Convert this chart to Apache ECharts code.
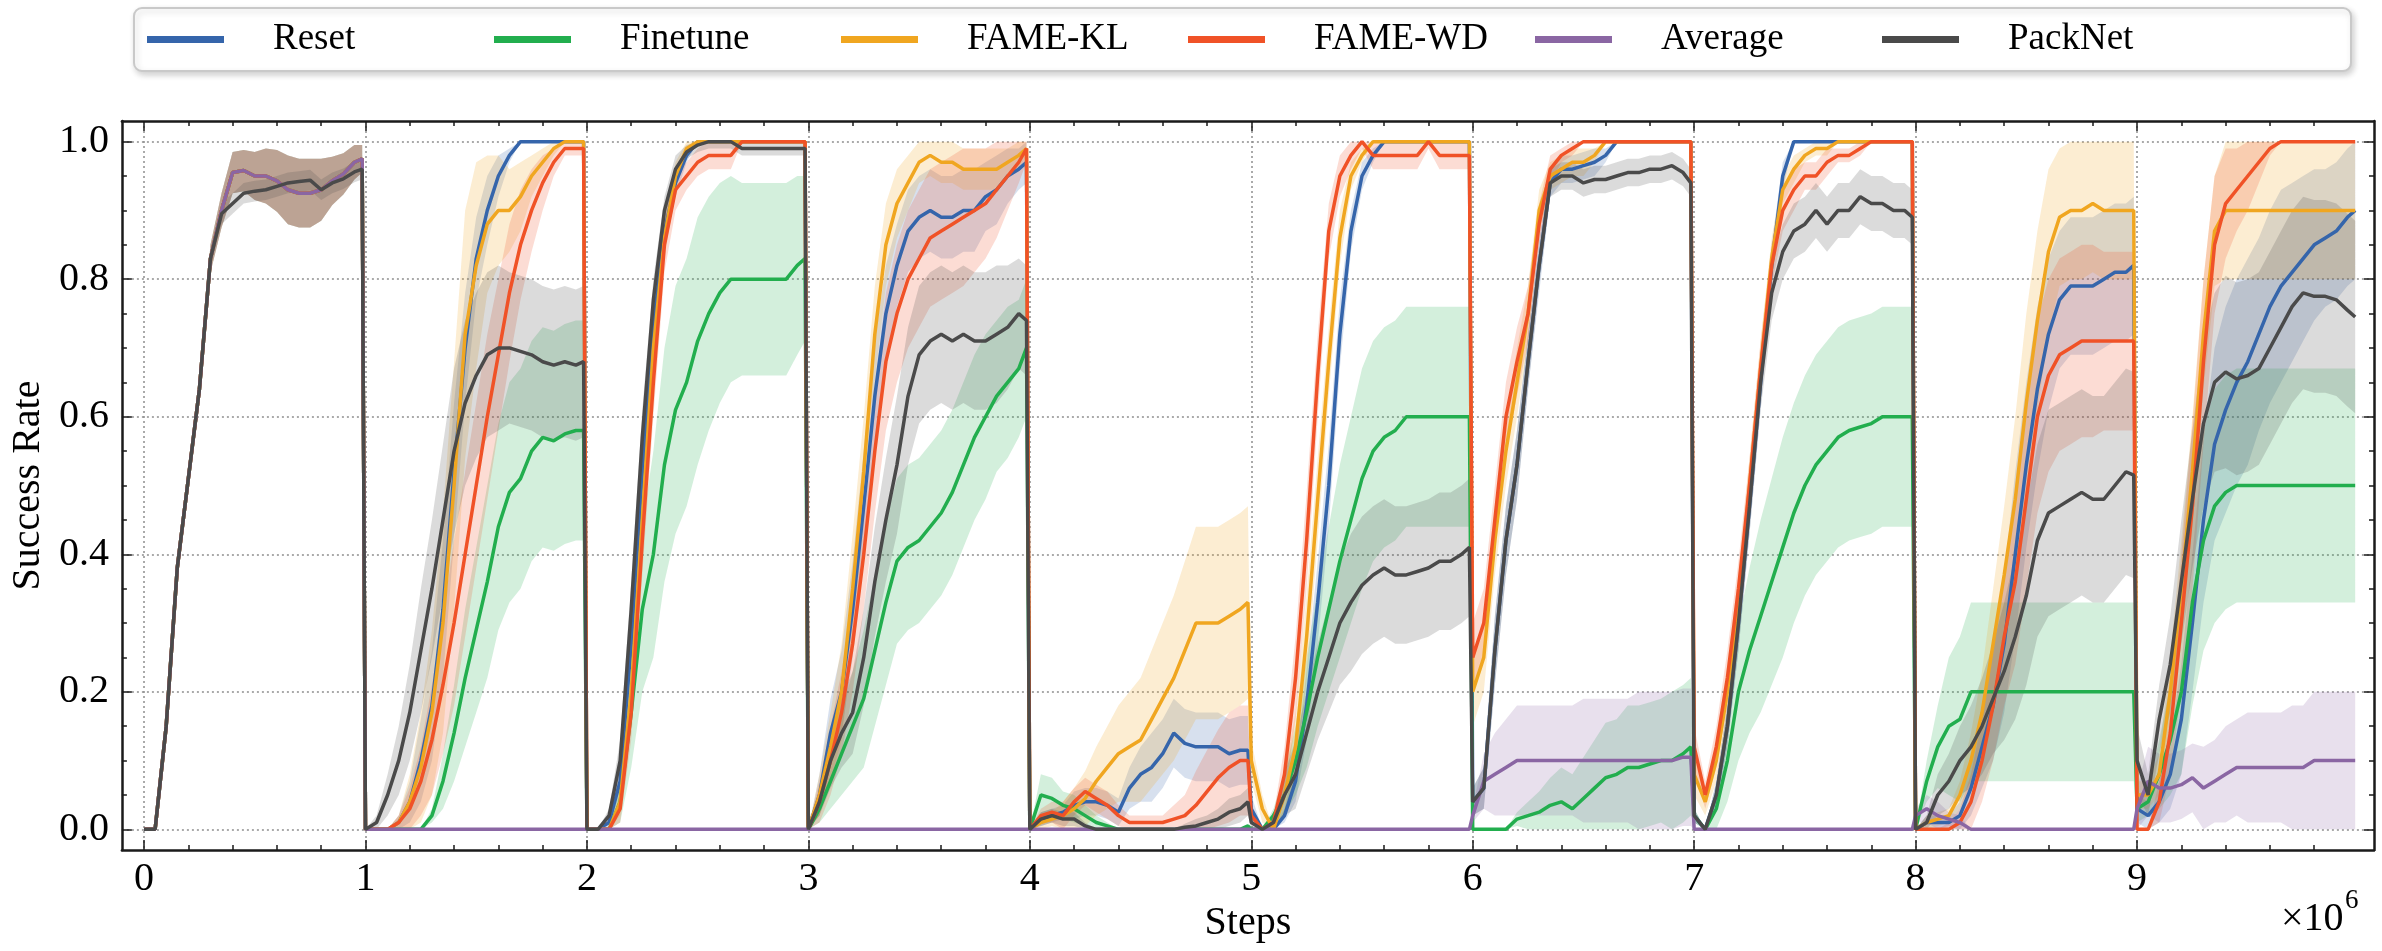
<!DOCTYPE html>
<html>
<head>
<meta charset="utf-8">
<script src="https://cdn.jsdelivr.net/npm/echarts@6/dist/echarts.min.js"></script>
<style>
  html, body { margin: 0; padding: 0; background: #fff; }
  #chart { width: 2382px; height: 951px; }
</style>
</head>
<body>
<div id="chart"></div>
<script>
'use strict'

// sampling offsets inside each task (x in units of 1e6 steps)
var offsets = [0, 0.05, 0.1, 0.15, 0.2, 0.25, 0.3, 0.35, 0.4, 0.45, 0.5, 0.55, 0.6, 0.65, 0.7, 0.75, 0.8, 0.85, 0.9, 0.95, 0.985];
var taskCount = 10;

var names = ['Reset', 'Finetune', 'FAME-KL', 'FAME-WD', 'Average', 'PackNet'];
var colors = ['#3565ab', '#22ae4e', '#f0a620', '#f05227', '#8a66a3', '#4a4a4a'];

// tick labels
var majorX = [0, 1, 2, 3, 4, 5, 6, 7, 8, 9];
var majorY = [0, 0.2, 0.4, 0.6, 0.8, 1.0];

var flat0 = [0,0,0,0,0,0,0,0,0,0,0,0,0,0,0,0,0,0,0,0,0];

// task 0 is the same run for the first five methods
var task0 = [0,0,0.15,0.38,0.51,0.64,0.83,0.9,0.955,0.958,0.95,0.95,0.943,0.93,0.925,0.925,0.93,0.943,0.953,0.97,0.975];
var task0Std = [0,0,0.01,0.015,0.015,0.015,0.02,0.025,0.03,0.03,0.035,0.04,0.045,0.05,0.05,0.05,0.045,0.035,0.03,0.025,0.02];

var reset = [
  task0,
  [0,0,0,0.01,0.04,0.1,0.18,0.32,0.52,0.7,0.83,0.9,0.95,0.98,1,1,1,1,1,1,1],
  [0,0,0.01,0.07,0.27,0.52,0.73,0.87,0.94,0.98,1,1,1,1,1,1,1,1,1,1,1],
  [0,0.05,0.14,0.2,0.32,0.47,0.63,0.75,0.82,0.87,0.89,0.9,0.89,0.89,0.9,0.9,0.92,0.93,0.95,0.96,0.97],
  [0,0.015,0.02,0.025,0.035,0.04,0.04,0.035,0.025,0.06,0.08,0.09,0.11,0.14,0.125,0.12,0.12,0.12,0.11,0.115,0.115],
  [0.03,0,0,0.02,0.07,0.18,0.33,0.5,0.72,0.87,0.95,0.98,1,1,1,1,1,1,1,1,1],
  [0.04,0.06,0.26,0.42,0.53,0.68,0.82,0.94,0.96,0.96,0.965,0.97,0.98,1,1,1,1,1,1,1,1],
  [0.02,0,0.05,0.15,0.3,0.47,0.65,0.82,0.95,1,1,1,1,1,1,1,1,1,1,1,1],
  [0,0.01,0.01,0.01,0.02,0.06,0.12,0.18,0.27,0.4,0.53,0.64,0.72,0.77,0.79,0.79,0.79,0.8,0.81,0.81,0.82],
  [0.03,0.02,0.04,0.08,0.16,0.3,0.45,0.56,0.61,0.65,0.68,0.72,0.76,0.79,0.81,0.83,0.85,0.86,0.87,0.89,0.9]
];
var resetStd = [
  task0Std,
  [0,0,0,0.01,0.03,0.06,0.08,0.1,0.1,0.08,0.06,0.05,0.03,0.01,0,0,0,0,0,0,0],
  [0,0,0.01,0.03,0.05,0.05,0.04,0.03,0.02,0.01,0,0,0,0,0,0,0,0,0,0,0],
  [0,0.03,0.05,0.06,0.07,0.08,0.08,0.07,0.06,0.06,0.06,0.06,0.06,0.06,0.06,0.06,0.05,0.05,0.04,0.03,0.03],
  [0,0.01,0.01,0.01,0.02,0.02,0.02,0.02,0.02,0.03,0.04,0.05,0.05,0.05,0.05,0.05,0.05,0.05,0.05,0.05,0.05],
  [0.02,0,0,0.01,0.03,0.05,0.06,0.06,0.05,0.03,0.02,0.01,0,0,0,0,0,0,0,0,0],
  [0.02,0.03,0.05,0.05,0.05,0.04,0.04,0.02,0.02,0.02,0.02,0.02,0.01,0,0,0,0,0,0,0,0],
  [0.01,0,0.02,0.03,0.04,0.04,0.04,0.03,0.02,0,0,0,0,0,0,0,0,0,0,0,0],
  [0,0.01,0.01,0.01,0.02,0.04,0.06,0.08,0.1,0.12,0.12,0.12,0.11,0.1,0.1,0.1,0.1,0.1,0.1,0.1,0.1],
  [0.02,0.02,0.03,0.05,0.08,0.1,0.12,0.14,0.15,0.15,0.15,0.14,0.14,0.14,0.13,0.12,0.11,0.1,0.1,0.1,0.1]
];

var finetune = [
  task0,
  [0,0,0,0,0,0,0.02,0.07,0.14,0.22,0.29,0.36,0.44,0.49,0.51,0.55,0.57,0.565,0.575,0.58,0.58],
  [0,0,0,0.04,0.17,0.32,0.4,0.53,0.61,0.65,0.71,0.75,0.78,0.8,0.8,0.8,0.8,0.8,0.8,0.82,0.83],
  [0,0.03,0.07,0.11,0.15,0.19,0.26,0.33,0.39,0.41,0.42,0.44,0.46,0.49,0.53,0.57,0.6,0.63,0.65,0.67,0.7],
  [0,0.05,0.045,0.035,0.03,0.02,0.01,0.005,0,0,0,0,0,0,0,0,0,0,0,0,0.005],
  [0,0,0.02,0.05,0.1,0.17,0.25,0.32,0.39,0.45,0.51,0.55,0.57,0.58,0.6,0.6,0.6,0.6,0.6,0.6,0.6],
  [0,0,0,0,0.015,0.02,0.025,0.035,0.04,0.03,0.045,0.06,0.075,0.08,0.09,0.09,0.095,0.1,0.1,0.11,0.12],
  [0.02,0,0.03,0.1,0.2,0.26,0.31,0.36,0.41,0.46,0.5,0.53,0.55,0.57,0.58,0.585,0.59,0.6,0.6,0.6,0.6],
  [0,0.07,0.12,0.15,0.16,0.2,0.2,0.2,0.2,0.2,0.2,0.2,0.2,0.2,0.2,0.2,0.2,0.2,0.2,0.2,0.2],
  [0.03,0.04,0.08,0.13,0.2,0.33,0.42,0.47,0.49,0.5,0.5,0.5,0.5,0.5,0.5,0.5,0.5,0.5,0.5,0.5,0.5]
];
var finetuneStd = [
  task0Std,
  [0,0,0,0,0,0,0.01,0.04,0.07,0.1,0.12,0.14,0.15,0.16,0.16,0.16,0.16,0.16,0.16,0.16,0.16],
  [0,0,0,0.03,0.08,0.12,0.15,0.17,0.18,0.18,0.18,0.17,0.16,0.15,0.14,0.14,0.14,0.14,0.14,0.13,0.12],
  [0,0.02,0.04,0.06,0.08,0.1,0.11,0.12,0.12,0.12,0.12,0.12,0.12,0.12,0.12,0.12,0.12,0.11,0.11,0.1,0.1],
  [0,0.03,0.03,0.02,0.02,0.015,0.01,0.005,0,0,0,0,0,0,0,0,0,0,0,0,0],
  [0,0,0.01,0.03,0.05,0.08,0.1,0.12,0.14,0.15,0.16,0.16,0.16,0.16,0.16,0.16,0.16,0.16,0.16,0.16,0.16],
  [0,0,0,0,0.01,0.02,0.03,0.04,0.05,0.05,0.06,0.07,0.08,0.08,0.09,0.09,0.09,0.09,0.1,0.1,0.1],
  [0.01,0,0.03,0.06,0.1,0.12,0.14,0.15,0.16,0.16,0.16,0.16,0.16,0.16,0.16,0.16,0.16,0.16,0.16,0.16,0.16],
  [0,0.03,0.06,0.1,0.12,0.13,0.13,0.13,0.13,0.13,0.13,0.13,0.13,0.13,0.13,0.13,0.13,0.13,0.13,0.13,0.13],
  [0.02,0.02,0.05,0.08,0.12,0.15,0.16,0.17,0.17,0.17,0.17,0.17,0.17,0.17,0.17,0.17,0.17,0.17,0.17,0.17,0.17]
];

var fameKL = [
  task0,
  [0,0,0,0.01,0.04,0.09,0.17,0.3,0.5,0.72,0.82,0.88,0.9,0.9,0.92,0.95,0.97,0.99,1,1,1],
  [0,0,0,0.04,0.2,0.45,0.7,0.86,0.95,0.99,1,1,1,1,1,1,1,1,1,1,1],
  [0,0.05,0.12,0.2,0.35,0.52,0.72,0.85,0.91,0.94,0.97,0.98,0.97,0.97,0.96,0.96,0.96,0.96,0.97,0.98,0.99],
  [0,0.01,0.015,0.02,0.03,0.045,0.07,0.09,0.11,0.12,0.13,0.16,0.19,0.22,0.26,0.3,0.3,0.3,0.31,0.32,0.33],
  [0.1,0.03,0,0.05,0.12,0.28,0.48,0.68,0.86,0.95,0.98,1,1,1,1,1,1,1,1,1,1],
  [0.2,0.25,0.42,0.55,0.65,0.75,0.9,0.95,0.96,0.97,0.97,0.98,1,1,1,1,1,1,1,1,1],
  [0.08,0.04,0.1,0.2,0.33,0.5,0.67,0.83,0.93,0.96,0.98,0.99,0.99,1,1,1,1,1,1,1,1],
  [0,0.01,0.015,0.02,0.05,0.1,0.17,0.27,0.37,0.48,0.62,0.74,0.84,0.89,0.9,0.9,0.91,0.9,0.9,0.9,0.9],
  [0.05,0.05,0.08,0.2,0.35,0.52,0.72,0.87,0.9,0.9,0.9,0.9,0.9,0.9,0.9,0.9,0.9,0.9,0.9,0.9,0.9]
];
var fameKLStd = [
  task0Std,
  [0,0,0,0.01,0.04,0.08,0.12,0.16,0.18,0.18,0.15,0.1,0.08,0.06,0.05,0.03,0.02,0.01,0,0,0],
  [0,0,0,0.02,0.04,0.05,0.04,0.03,0.02,0.01,0,0,0,0,0,0,0,0,0,0,0],
  [0,0.03,0.05,0.07,0.08,0.08,0.07,0.06,0.05,0.04,0.03,0.03,0.03,0.03,0.03,0.03,0.03,0.03,0.02,0.02,0.01],
  [0,0.01,0.01,0.02,0.03,0.04,0.05,0.06,0.07,0.08,0.09,0.1,0.11,0.12,0.13,0.14,0.14,0.14,0.14,0.14,0.14],
  [0.03,0.02,0,0.03,0.05,0.06,0.06,0.05,0.04,0.02,0.01,0,0,0,0,0,0,0,0,0,0],
  [0.05,0.05,0.05,0.05,0.05,0.04,0.03,0.02,0.02,0.02,0.02,0.01,0,0,0,0,0,0,0,0,0],
  [0.03,0.02,0.03,0.04,0.04,0.04,0.04,0.03,0.02,0.02,0.01,0.01,0.01,0,0,0,0,0,0,0,0],
  [0,0.01,0.01,0.01,0.02,0.04,0.06,0.08,0.1,0.12,0.13,0.13,0.12,0.1,0.1,0.1,0.1,0.1,0.1,0.1,0.1],
  [0.02,0.02,0.03,0.05,0.07,0.08,0.08,0.08,0.1,0.1,0.1,0.1,0.1,0.1,0.1,0.1,0.1,0.1,0.1,0.1,0.1]
];

var fameWD = [
  task0,
  [0,0,0,0.01,0.03,0.07,0.13,0.21,0.3,0.4,0.5,0.6,0.69,0.78,0.85,0.9,0.94,0.97,0.99,0.99,0.99],
  [0,0,0,0.03,0.17,0.42,0.65,0.85,0.93,0.95,0.97,0.98,0.98,0.98,1,1,1,1,1,1,1],
  [0,0.04,0.1,0.17,0.27,0.4,0.55,0.68,0.75,0.8,0.83,0.86,0.87,0.88,0.89,0.9,0.91,0.93,0.95,0.97,0.99],
  [0,0.02,0.025,0.02,0.04,0.055,0.045,0.035,0.02,0.01,0.01,0.01,0.01,0.015,0.02,0.035,0.055,0.075,0.09,0.1,0.1],
  [0.02,0,0.01,0.08,0.22,0.42,0.66,0.87,0.95,0.98,1,0.98,0.98,0.98,0.98,0.98,1,0.98,0.98,0.98,0.98],
  [0.25,0.3,0.45,0.6,0.68,0.75,0.88,0.96,0.98,0.99,1,1,1,1,1,1,1,1,1,1,1],
  [0.12,0.05,0.12,0.22,0.35,0.5,0.67,0.82,0.9,0.93,0.95,0.95,0.97,0.98,0.98,0.99,1,1,1,1,1],
  [0,0,0,0,0.01,0.04,0.1,0.18,0.28,0.36,0.48,0.6,0.66,0.69,0.7,0.71,0.71,0.71,0.71,0.71,0.71],
  [0,0,0.04,0.14,0.3,0.47,0.68,0.85,0.91,0.93,0.95,0.97,0.99,1,1,1,1,1,1,1,1]
];
var fameWDStd = [
  task0Std,
  [0,0,0,0.01,0.03,0.05,0.08,0.1,0.12,0.12,0.12,0.12,0.11,0.1,0.08,0.06,0.04,0.02,0.01,0.01,0.01],
  [0,0,0,0.02,0.04,0.05,0.05,0.04,0.03,0.02,0.02,0.02,0.02,0.02,0,0,0,0,0,0,0],
  [0,0.03,0.05,0.06,0.07,0.08,0.09,0.1,0.1,0.1,0.1,0.1,0.1,0.1,0.1,0.09,0.08,0.07,0.05,0.03,0.02],
  [0,0.01,0.015,0.02,0.02,0.02,0.02,0.02,0.015,0.01,0.01,0.01,0.01,0.02,0.03,0.05,0.06,0.07,0.08,0.08,0.08],
  [0.01,0,0.01,0.04,0.06,0.07,0.06,0.04,0.03,0.02,0.01,0.02,0.02,0.02,0.02,0.02,0.01,0.02,0.02,0.02,0.02],
  [0.05,0.05,0.05,0.05,0.05,0.04,0.03,0.02,0.01,0.01,0,0,0,0,0,0,0,0,0,0,0],
  [0.03,0.02,0.03,0.04,0.04,0.04,0.04,0.03,0.03,0.03,0.02,0.02,0.02,0.01,0.01,0.01,0,0,0,0,0],
  [0,0,0,0.01,0.02,0.04,0.06,0.08,0.1,0.12,0.13,0.14,0.14,0.14,0.14,0.14,0.14,0.13,0.13,0.13,0.13],
  [0,0,0.03,0.06,0.1,0.12,0.12,0.1,0.08,0.06,0.05,0.03,0.01,0,0,0,0,0,0,0,0]
];

var average = [
  task0, flat0, flat0, flat0, flat0, flat0,
  [0.02,0.07,0.08,0.09,0.1,0.1,0.1,0.1,0.1,0.1,0.1,0.1,0.1,0.1,0.1,0.1,0.1,0.1,0.1,0.105,0.105],
  flat0,
  [0.02,0.03,0.02,0.015,0.01,0,0,0,0,0,0,0,0,0,0,0,0,0,0,0,0],
  [0.03,0.07,0.06,0.06,0.065,0.075,0.06,0.07,0.08,0.09,0.09,0.09,0.09,0.09,0.09,0.09,0.1,0.1,0.1,0.1,0.1]
];
var averageStd = [
  task0Std, flat0, flat0, flat0, flat0, flat0,
  [0.01,0.04,0.06,0.07,0.08,0.08,0.08,0.08,0.08,0.08,0.09,0.09,0.09,0.09,0.09,0.1,0.1,0.1,0.1,0.1,0.1],
  flat0,
  [0.01,0.02,0.02,0.01,0.01,0,0,0,0,0,0,0,0,0,0,0,0,0,0,0,0],
  [0.03,0.05,0.05,0.05,0.05,0.05,0.06,0.06,0.07,0.07,0.08,0.08,0.08,0.08,0.09,0.09,0.1,0.1,0.1,0.1,0.1]
];

var packNet = [
  [0,0,0.15,0.38,0.51,0.64,0.83,0.895,0.91,0.925,0.928,0.93,0.935,0.94,0.942,0.944,0.93,0.94,0.946,0.956,0.96],
  [0,0.01,0.05,0.1,0.17,0.26,0.35,0.45,0.55,0.62,0.66,0.69,0.7,0.7,0.695,0.69,0.68,0.675,0.68,0.675,0.68],
  [0,0,0.02,0.1,0.32,0.57,0.77,0.9,0.96,0.985,0.995,1,1,1,0.99,0.99,0.99,0.99,0.99,0.99,0.99],
  [0,0.04,0.1,0.14,0.17,0.25,0.36,0.45,0.53,0.63,0.69,0.71,0.72,0.71,0.72,0.71,0.71,0.72,0.73,0.75,0.74],
  [0,0.015,0.02,0.015,0.015,0.005,0,0,0,0,0,0,0,0,0.003,0.005,0.01,0.015,0.025,0.03,0.04],
  [0.01,0,0.01,0.05,0.08,0.14,0.2,0.25,0.3,0.33,0.355,0.37,0.38,0.37,0.37,0.375,0.38,0.39,0.39,0.4,0.41],
  [0.04,0.06,0.26,0.42,0.53,0.68,0.82,0.94,0.95,0.95,0.94,0.945,0.945,0.95,0.955,0.955,0.96,0.96,0.965,0.955,0.94],
  [0.02,0,0.05,0.15,0.3,0.47,0.65,0.78,0.84,0.87,0.88,0.9,0.88,0.9,0.9,0.92,0.91,0.91,0.9,0.9,0.89],
  [0,0.01,0.05,0.07,0.1,0.12,0.15,0.19,0.23,0.28,0.34,0.42,0.46,0.47,0.48,0.49,0.48,0.48,0.5,0.52,0.515],
  [0.1,0.05,0.16,0.24,0.36,0.48,0.59,0.65,0.665,0.655,0.66,0.67,0.7,0.73,0.76,0.78,0.775,0.775,0.77,0.755,0.745]
];
var packNetStd = [
  [0,0,0.01,0.01,0.01,0.01,0.01,0.015,0.015,0.015,0.015,0.015,0.015,0.015,0.015,0.015,0.015,0.015,0.015,0.015,0.015],
  [0,0.01,0.03,0.05,0.07,0.09,0.1,0.11,0.12,0.12,0.12,0.12,0.12,0.11,0.11,0.11,0.11,0.11,0.11,0.11,0.11],
  [0,0,0.01,0.03,0.04,0.04,0.03,0.02,0.02,0.01,0.01,0.01,0.01,0.01,0.01,0.01,0.01,0.01,0.01,0.01,0.01],
  [0,0.02,0.04,0.05,0.06,0.07,0.08,0.09,0.1,0.1,0.1,0.1,0.1,0.1,0.1,0.1,0.1,0.1,0.09,0.08,0.08],
  [0,0.01,0.01,0.01,0.01,0.005,0,0,0,0,0,0,0,0,0.005,0.01,0.01,0.015,0.02,0.02,0.02],
  [0.01,0,0.01,0.03,0.05,0.06,0.07,0.08,0.09,0.1,0.1,0.1,0.1,0.1,0.1,0.1,0.1,0.1,0.1,0.1,0.1],
  [0.02,0.03,0.05,0.05,0.05,0.04,0.03,0.02,0.02,0.02,0.02,0.02,0.02,0.02,0.02,0.02,0.02,0.02,0.02,0.02,0.02],
  [0.01,0,0.02,0.03,0.04,0.04,0.04,0.04,0.04,0.04,0.04,0.04,0.04,0.04,0.04,0.04,0.04,0.04,0.04,0.04,0.04],
  [0,0.01,0.03,0.04,0.05,0.06,0.07,0.08,0.1,0.12,0.13,0.14,0.15,0.15,0.15,0.15,0.15,0.15,0.15,0.15,0.15],
  [0.05,0.03,0.05,0.07,0.09,0.1,0.12,0.13,0.14,0.14,0.14,0.14,0.14,0.14,0.14,0.14,0.14,0.14,0.14,0.14,0.14]
];

var means = [reset, finetune, fameKL, fameWD, average, packNet];
var stds = [resetStd, finetuneStd, fameKLStd, fameWDStd, averageStd, packNetStd];

// x positions of the samples
var steps = [];
for (var t = 0; t < taskCount; t++) {
  offsets.forEach(function (o) { steps.push(+(t + o).toFixed(3)); });
}

// minor tick positions
var minorX = [];
for (var i = 1; i <= 50; i++) { if (i % 5) minorX.push(+(i * 0.2).toFixed(1)); }
var minorY = [];
for (var j = 1; j < 20; j++) { if (j % 4) minorY.push(+(j * 0.05).toFixed(2)); }

var FONT = "'Liberation Serif', 'Times New Roman', 'DejaVu Serif', serif";

function hexToRgba(hex, a) {
  var n = parseInt(hex.slice(1), 16);
  return 'rgba(' + (n >> 16) + ',' + ((n >> 8) & 255) + ',' + (n & 255) + ',' + a + ')';
}

function lineSeries(k) {
  var flat = [].concat.apply([], means[k]);
  return {
    type: 'line', name: names[k], symbol: 'none', z: 3,
    data: flat.map(function (v, i) { return [steps[i], v]; }),
    lineStyle: { width: 3.5, color: colors[k] },
    itemStyle: { color: colors[k] }
  };
}

function bandSeries(k) {
  var m = [].concat.apply([], means[k]);
  var s = [].concat.apply([], stds[k]);
  var pts = m.map(function (v, i) {
    return [steps[i], Math.max(0, v - s[i]), Math.min(1, v + s[i])];
  });
  return {
    type: 'custom', name: names[k] + ' std', z: 1, silent: true,
    data: [[0, 0]],
    renderItem: function (params, api) {
      var up = pts.map(function (p) { return api.coord([p[0], p[2]]); });
      var lo = pts.map(function (p) { return api.coord([p[0], p[1]]); }).reverse();
      return {
        type: 'polygon',
        shape: { points: up.concat(lo) },
        style: { fill: hexToRgba(colors[k], 0.2), stroke: null }
      };
    }
  };
}

function tickAxis(dim, pos, ticks, len, extra) {
  var ax = {
    type: 'value', position: pos,
    min: dim === 'x' ? -0.1 : -0.03,
    max: dim === 'x' ? 10.07 : 1.03,
    axisLine: { show: false, onZero: false },
    axisTick: { show: true, inside: true, length: len, customValues: ticks, lineStyle: { color: '#1a1a1a', width: 1.5 } },
    axisLabel: { show: false },
    splitLine: { show: false }
  };
  return Object.assign(ax, extra || {});
}

var frameLine = { show: true, onZero: false, lineStyle: { color: '#1a1a1a', width: 2.5 } };
var gridDots = { show: true, lineStyle: { color: '#8f8f8f', width: 1.5, type: [2, 3] } };

var series = [];
for (var k = 0; k < names.length; k++) series.push(bandSeries(k));
for (var k2 = 0; k2 < names.length; k2++) series.push(lineSeries(k2));

var chart = echarts.init(document.getElementById('chart'), null, { renderer: 'canvas' });
chart.setOption({
  animation: false,
  backgroundColor: '#fff',
  textStyle: { fontFamily: FONT },
  grid: { left: 121, right: 8, top: 121, bottom: 101, containLabel: false },
  legend: {
    data: names, left: 134, top: 8, selectedMode: false,
    padding: [13, 122, 13, 13], itemGap: 0,
    icon: 'rect', itemWidth: 77, itemHeight: 7,
    textStyle: { fontFamily: FONT, fontSize: 37, color: '#000', width: 221, padding: [0, 0, 0, 44], lineHeight: 36 },
    borderColor: '#c9c9c9', borderWidth: 2, borderRadius: 8, backgroundColor: '#fff',
    shadowColor: 'rgba(0,0,0,0.18)', shadowBlur: 6, shadowOffsetX: 2, shadowOffsetY: 3
  },
  xAxis: [
    tickAxis('x', 'bottom', majorX, 10, {
      axisLine: frameLine,
      axisLabel: { show: true, customValues: majorX, fontFamily: FONT, fontSize: 40, color: '#000', margin: 9 },
      splitLine: gridDots,
      name: 'Steps', nameLocation: 'middle', nameGap: 46,
      nameTextStyle: { fontFamily: FONT, fontSize: 40, color: '#000' }
    }),
    tickAxis('x', 'bottom', minorX, 5),
    tickAxis('x', 'top', majorX, 10, { axisLine: frameLine }),
    tickAxis('x', 'top', minorX, 5)
  ],
  yAxis: [
    tickAxis('y', 'left', majorY, 10, {
      axisLine: frameLine,
      axisLabel: { show: true, customValues: majorY, fontFamily: FONT, fontSize: 40, color: '#000', margin: 13,
        formatter: function (v) { return v.toFixed(1); } },
      splitLine: gridDots,
      name: 'Success Rate', nameLocation: 'middle', nameGap: 70,
      nameTextStyle: { fontFamily: FONT, fontSize: 40, color: '#000' }
    }),
    tickAxis('y', 'left', minorY, 5),
    tickAxis('y', 'right', majorY, 10, { axisLine: frameLine }),
    tickAxis('y', 'right', minorY, 5)
  ],
  graphic: [
    { type: 'text', left: 2281, top: 899, style: { text: '×10', fontFamily: FONT, fontSize: 40, fill: '#000' } },
    { type: 'text', left: 2345, top: 887, style: { text: '6', fontFamily: FONT, fontSize: 27, fill: '#000' } }
  ],
  series: series
});
</script>
</body>
</html>
